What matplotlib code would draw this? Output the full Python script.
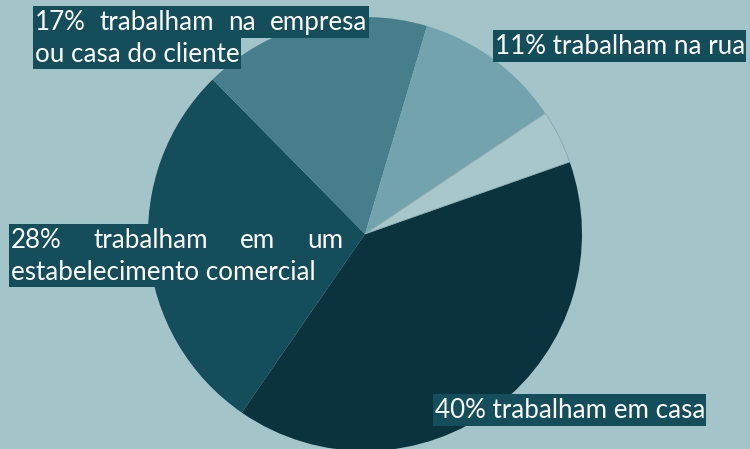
import matplotlib.pyplot as plt
from matplotlib.patches import Rectangle

# Shares of workers by place of work
shares = [40, 28, 17, 11, 4]
slice_colors = ['#0b333d', '#154e5b', '#467f8b', '#73a4ad', '#a7c7cb']

# Label text, one entry per line: (text, justified)
label_casa = [('40% trabalham em casa', False)]
label_estab = [('28% trabalham em um', True), ('estabelecimento comercial', False)]
label_empresa = [('17% trabalham na empresa', True), ('ou casa do cliente', False)]
label_rua = [('11% trabalham na rua', False)]

BG = '#a3c4c8'
BOX = '#154e5b'
W, H = 750, 449

fig = plt.figure(figsize=(7.5, 4.49), dpi=100)
fig.patch.set_facecolor(BG)

# pie axes placed in pixel units: centre (365, 234 from top), radius 217
cx, cy, r = 365, 234, 217
ax = fig.add_axes([(cx - r) / W, (H - cy - r) / H, 2 * r / W, 2 * r / H])
wedges, _ = ax.pie(shares, colors=slice_colors, startangle=19.4, counterclock=False,
                   wedgeprops=dict(linewidth=0))
wedges[-1].set_edgecolor('#8aa8ad')
wedges[-1].set_linewidth(0.6)
ax.set_xlim(-1, 1)
ax.set_ylim(-1, 1)
ax.set_aspect('auto')
ax.axis('off')

FONT = dict(family=['Lato', 'DejaVu Sans'], size=18.7, color='white')
renderer = fig.canvas.get_renderer()


def text_width(s):
    t = fig.text(0, 0, s, **FONT)
    w = t.get_window_extent(renderer).width
    t.remove()
    return w


def draw_label(lines, x0, y_top, box_w, line_h=31.5, pad=2):
    """Highlighted label; justified lines are spread over box_w pixels."""
    for i, (s, justify) in enumerate(lines):
        top = y_top + i * line_h
        if justify:
            width = box_w
        else:
            width = text_width(s) + pad + 1
        fig.add_artist(Rectangle((x0 / W, 1 - (top + line_h) / H), width / W, line_h / H,
                                 transform=fig.transFigure, facecolor=BOX,
                                 edgecolor='none', zorder=3))
        ymid = 1 - (top + line_h / 2 + 1) / H
        if justify:
            words = s.split()
            widths = [text_width(w) for w in words]
            gap = (box_w - 2 * pad - sum(widths)) / (len(words) - 1)
            x = x0 + pad
            for w, ww in zip(words, widths):
                fig.text(x / W, ymid, w, va='center', ha='left', zorder=4, **FONT)
                x += ww + gap
        else:
            fig.text((x0 + pad) / W, ymid, s, va='center', ha='left', zorder=4, **FONT)


draw_label(label_empresa, 33, 6, 336)
draw_label(label_rua, 493, 30, 254)
draw_label(label_estab, 9, 224, 336)
draw_label(label_casa, 433, 394, 274)

fig.savefig('out.png', dpi=100, facecolor=BG)
